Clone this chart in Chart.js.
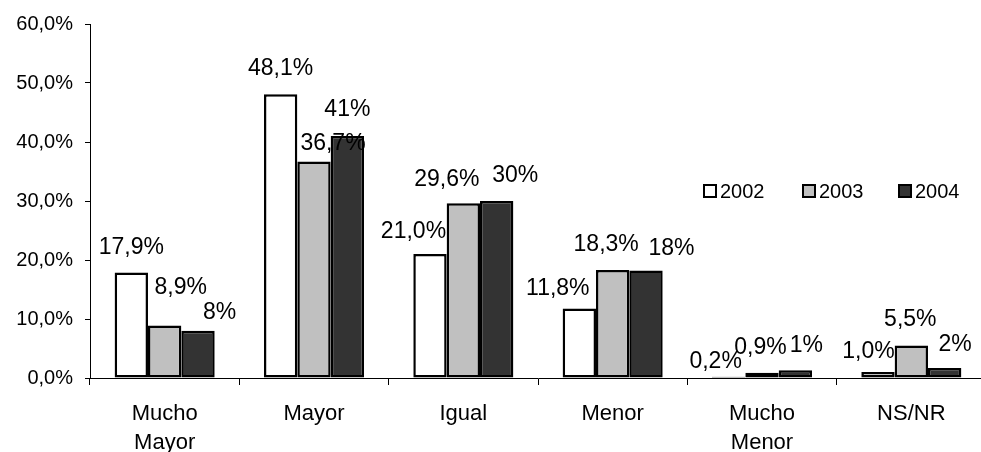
<!DOCTYPE html>
<html>
<head>
<meta charset="utf-8">
<script src="https://cdn.jsdelivr.net/npm/chart.js@4.4.1/dist/chart.umd.min.js"></script>
<style>
  html, body { margin: 0; padding: 0; background: #fff; overflow: hidden; }
  #wrap { position: relative; width: 1000px; height: 452px; }
</style>
</head>
<body>
<div id="wrap"><canvas id="chart"></canvas></div>
<script>
// categories and series
const categories = [['Mucho', 'Mayor'], 'Mayor', 'Igual', 'Menor', ['Mucho', 'Menor'], 'NS/NR'];
const years = ['2002', '2003', '2004'];
const values2002 = [17.9, 48.1, 21.0, 11.8, 0.2, 1.0];
const values2003 = [8.9, 36.7, 29.6, 18.3, 0.9, 5.5];
const values2004 = [8.0, 41.0, 30.0, 18.2, 1.3, 1.7];
const labelDecimals = [1, 1, 0];

// hand placed label nudges (dx, dy from bar top centre), like the original
const labelNudge = [
  [[0, -25], [0, -26], [-16.5, -22], [-21.5, -20], [-13, -15], [-9.5, -20]],
  [[16, -38], [19, -18], [-16.5, -24], [-6.5, -25], [-1.5, -25], [-1, -26]],
  [[21.5, -18], [0, -26], [18.5, -25], [25.5, -22], [11, -25], [10.5, -23]]
];

const FONT = "'Liberation Sans', Arial, sans-serif";
const fills = ['#ffffff', '#c0c0c0', '#333333'];

const fmt = (v, d) => v.toFixed(d).replace('.', ',') + '%';

const dataLabels = {
  id: 'dataLabels',
  afterDatasetsDraw(chart) {
    const ctx = chart.ctx;
    ctx.save();
    ctx.font = '23px ' + FONT;
    ctx.fillStyle = '#000';
    ctx.textAlign = 'center';
    ctx.textBaseline = 'middle';
    chart.data.datasets.forEach((ds, i) => {
      chart.getDatasetMeta(i).data.forEach((bar, j) => {
        const n = labelNudge[i][j];
        ctx.fillText(fmt(ds.data[j], labelDecimals[i]), bar.x + n[0], bar.y + n[1]);
      });
    });
    ctx.restore();
  }
};

const insideLegend = {
  id: 'insideLegend',
  afterDraw(chart) {
    const ctx = chart.ctx;
    const xs = [703, 802, 898];
    const y = 191;
    ctx.save();
    ctx.font = '20px ' + FONT;
    ctx.textBaseline = 'middle';
    chart.data.datasets.forEach((ds, i) => {
      ctx.fillStyle = ds.backgroundColor;
      ctx.fillRect(xs[i] + 1, y - 6, 12, 12);
      ctx.strokeStyle = '#000';
      ctx.lineWidth = 2;
      ctx.strokeRect(xs[i] + 1, y - 6, 12, 12);
      ctx.fillStyle = '#000';
      ctx.fillText(ds.label, xs[i] + 17, y + 1);
    });
    ctx.restore();
  }
};

new Chart(document.getElementById('chart'), {
  type: 'bar',
  data: {
    labels: categories,
    datasets: [values2002, values2003, values2004].map((vals, i) => ({
      label: years[i],
      data: vals,
      backgroundColor: fills[i],
      borderColor: '#000',
      borderWidth: 2.5,
      borderSkipped: false,
      categoryPercentage: 0.67,
      barPercentage: 1.0
    }))
  },
  options: {
    responsive: true,
    maintainAspectRatio: false,
    animation: false,
    layout: { padding: { top: 24, right: 14, left: 0, bottom: 0 } },
    plugins: {
      legend: { display: false },
      tooltip: { enabled: false }
    },
    scales: {
      x: {
        grid: { display: true, drawOnChartArea: false, drawTicks: true, tickLength: 7, tickColor: '#000', offset: true },
        border: { display: true, color: '#000', width: 1 },
        ticks: { color: '#000', padding: 14, maxRotation: 0, font: { family: FONT, size: 22, lineHeight: 1.32 } },
        afterFit: s => { s.height = 74; }
      },
      y: {
        min: 0,
        max: 60,
        grid: { display: true, drawOnChartArea: false, drawTicks: true, tickLength: 5, tickColor: '#000' },
        border: { display: true, color: '#000', width: 1 },
        ticks: {
          stepSize: 10,
          color: '#000',
          padding: 12,
          font: { family: FONT, size: 20 },
          callback: v => fmt(v, 1)
        },
        afterFit: s => { s.width = 90; }
      }
    }
  },
  plugins: [dataLabels, insideLegend]
});
</script>
</body>
</html>
